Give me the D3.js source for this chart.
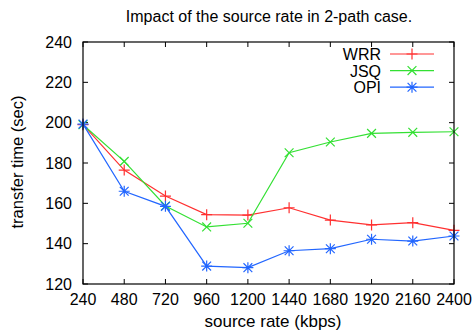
<!DOCTYPE html>
<html>
<head>
<meta charset="utf-8">
<script src="https://cdn.jsdelivr.net/npm/d3@7"></script>
<style>
  body { margin: 0; background: #fff; }
  text { font-family: "Liberation Sans", Arial, sans-serif; fill: #000; }
</style>
</head>
<body>
<div id="chart"></div>
<script>
const rates = [240, 480, 720, 960, 1200, 1440, 1680, 1920, 2160, 2400];
const wrr = [199, 176.5, 163.6, 154.4, 154.2, 157.8, 151.7, 149.3, 150.4, 146.6];
const jsq = [199, 180.8, 158.7, 148.3, 150.1, 185.1, 190.4, 194.7, 195.2, 195.5];
const opi = [199.3, 166, 158.5, 128.9, 128.1, 136.5, 137.5, 142.2, 141.3, 143.8];
const yTicks = [120, 140, 160, 180, 200, 220, 240];

const series = [
  { name: 'WRR', values: wrr, color: '#ff3030', marker: 'plus' },
  { name: 'JSQ', values: jsq, color: '#33e033', marker: 'cross' },
  { name: 'OPI', values: opi, color: '#2266ff', marker: 'star' },
];

const width = 476, height = 332;
const margin = { top: 42, right: 22, bottom: 48, left: 83 };

const svg = d3.select('#chart').append('svg')
  .attr('width', width)
  .attr('height', height);

const x = d3.scaleLinear().domain([240, 2400]).range([margin.left, width - margin.right]);
const y = d3.scaleLinear().domain([120, 240]).range([height - margin.bottom, margin.top]);

// ticks (inward, all four sides)
const tl = 5;
const axes = svg.append('g').attr('stroke', '#000').attr('stroke-width', 1);
rates.forEach((r) => {
  axes.append('line').attr('x1', x(r)).attr('x2', x(r)).attr('y1', y(120)).attr('y2', y(120) - tl);
  axes.append('line').attr('x1', x(r)).attr('x2', x(r)).attr('y1', y(240)).attr('y2', y(240) + tl);
});
yTicks.forEach((t) => {
  axes.append('line').attr('x1', x(240)).attr('x2', x(240) + tl).attr('y1', y(t)).attr('y2', y(t));
  axes.append('line').attr('x1', x(2400)).attr('x2', x(2400) - tl).attr('y1', y(t)).attr('y2', y(t));
});

svg.append('g').selectAll('text')
  .data(rates)
  .enter()
  .append('text')
  .attr('x', (d) => x(d))
  .attr('y', y(120) + 21)
  .attr('text-anchor', 'middle')
  .attr('font-size', 16)
  .text((d) => d);

svg.append('g').selectAll('text')
  .data(yTicks)
  .enter()
  .append('text')
  .attr('x', x(240) - 11)
  .attr('y', (d) => y(d) + 5.5)
  .attr('text-anchor', 'end')
  .attr('font-size', 16)
  .text((d) => d);

// markers
const markerPath = (type, s) => {
  const p = `M${-s},0L${s},0M0,${-s}L0,${s}`;
  const c = s * 0.8;
  const xx = `M${-c},${-c}L${c},${c}M${-c},${c}L${c},${-c}`;
  if (type === 'plus') return p;
  if (type === 'cross') return xx;
  return p + xx;
};

const line = d3.line().x((d, i) => x(rates[i])).y((d) => y(d));

series.forEach((s) => {
  const g = svg.append('g');
  g.append('path')
    .attr('d', line(s.values))
    .attr('fill', 'none')
    .attr('stroke', s.color)
    .attr('stroke-width', 1.2);
  g.selectAll('path.m')
    .data(s.values)
    .enter()
    .append('path')
    .classed('m', true)
    .attr('transform', (d, i) => `translate(${x(rates[i])},${y(d)})`)
    .attr('d', markerPath(s.marker, 5.5))
    .attr('fill', 'none')
    .attr('stroke', s.color)
    .attr('stroke-width', 1.2);
});

// frame
svg.append('rect')
  .attr('x', x(240))
  .attr('y', y(240))
  .attr('width', x(2400) - x(240))
  .attr('height', y(120) - y(240))
  .attr('fill', 'none')
  .attr('stroke', '#000')
  .attr('stroke-width', 1.2);

// legend
const legend = svg.append('g');
series.forEach((s, i) => {
  const ly = 54 + i * 16.6;
  legend.append('text')
    .attr('x', 381)
    .attr('y', ly + 6)
    .attr('text-anchor', 'end')
    .attr('font-size', 16)
    .text(s.name);
  legend.append('line')
    .attr('x1', 390).attr('x2', 434)
    .attr('y1', ly).attr('y2', ly)
    .attr('stroke', s.color)
    .attr('stroke-width', 1.2);
  legend.append('path')
    .attr('transform', `translate(412,${ly})`)
    .attr('d', markerPath(s.marker, 5.5))
    .attr('fill', 'none')
    .attr('stroke', s.color)
    .attr('stroke-width', 1.2);
});

svg.append('text')
  .attr('x', 269)
  .attr('y', 22)
  .attr('text-anchor', 'middle')
  .attr('font-size', 16)
  .text('Impact of the source rate in 2-path case.');

svg.append('text')
  .attr('x', 273)
  .attr('y', 327)
  .attr('text-anchor', 'middle')
  .attr('font-size', 17)
  .text('source rate (kbps)');

svg.append('text')
  .attr('transform', 'translate(23,162) rotate(-90)')
  .attr('text-anchor', 'middle')
  .attr('font-size', 16.5)
  .text('transfer time (sec)');
</script>
</body>
</html>
